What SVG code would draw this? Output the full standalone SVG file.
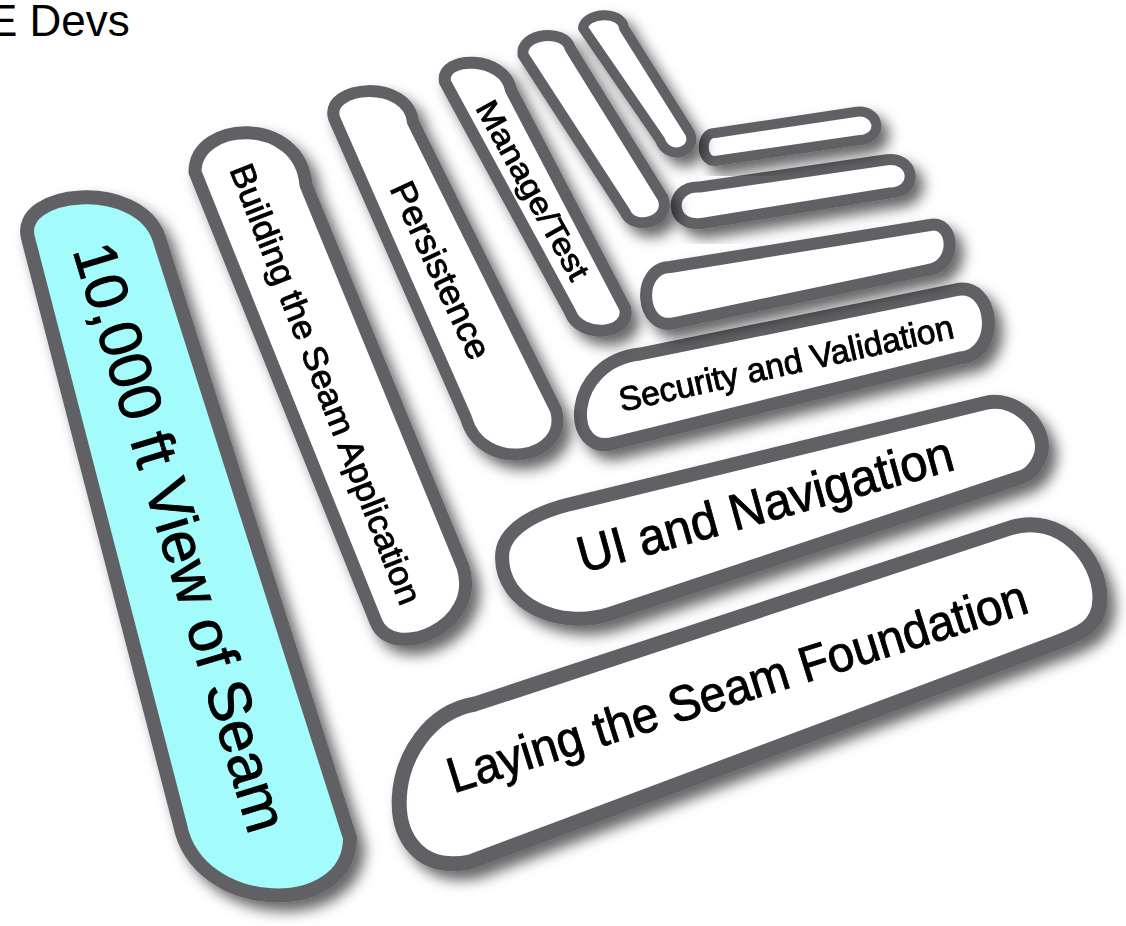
<svg xmlns="http://www.w3.org/2000/svg" width="1126" height="926" viewBox="0 0 1126 926">
<defs>
<filter id="sh" x="-30%" y="-30%" width="160%" height="160%">
<feDropShadow dx="8" dy="9" stdDeviation="7" flood-color="#000" flood-opacity="0.6"/>
</filter>
<style>
.pill{fill:#ffffff;stroke:#616165;stroke-linejoin:round;}
.cyan{fill:#a4fbfc;}
.lbl{font-family:"Liberation Sans",Arial,Helvetica,sans-serif;fill:#000;stroke:#000;stroke-width:0.9;text-anchor:middle;}
.hdr{font-family:"Liberation Sans",Arial,Helvetica,sans-serif;fill:#000;}
</style>
</defs>
<rect width="1126" height="926" fill="#ffffff"/>
<text class="hdr" x="-12" y="36" font-size="44">E Devs</text>

<g id="laying" filter="url(#sh)">
<path class="pill" stroke-width="15" d="M 475,704 L 1010,528 C 1060,512 1100,558 1100,598 C 1100,628 1080,634 1042,648 L 470,862 C 368,882 382,720 475,704 Z"/>
<text class="lbl" font-size="50" textLength="605" lengthAdjust="spacingAndGlyphs" dy="0.35em" transform="translate(737,686) rotate(-17.4)">Laying the Seam Foundation</text>
</g>
<g id="ui" filter="url(#sh)">
<path class="pill" stroke-width="14" d="M 575,503 L 985,403 C 1014,396 1042,422 1042,447 C 1042,459 1033,473 1022,477 L 610,614 C 560,630 502,605 502,557 C 502,530 535,512 575,503 Z"/>
<text class="lbl" font-size="51" textLength="388" lengthAdjust="spacingAndGlyphs" dy="0.35em" transform="translate(765,504) rotate(-15.5)">UI and Navigation</text>
</g>
<g id="security" filter="url(#sh)">
<path class="pill" stroke-width="13" d="M 640,354 L 955,290 C 995,280 1002,355 960,358 L 615,443 C 565,458 566,362 640,354 Z"/>
<text class="lbl" font-size="34" textLength="342" lengthAdjust="spacingAndGlyphs" dy="0.35em" transform="translate(786,363) rotate(-12.5)">Security and Validation</text>
</g>
<g id="blank3" filter="url(#sh)">
<path class="pill" stroke-width="12" d="M 670,267 L 930,225 C 955,220 958,266 928,270 L 675,323 C 640,332 635,268 670,267 Z"/>
</g>
<g id="blank2" filter="url(#sh)">
<path class="pill" stroke-width="11" d="M 700,187 L 885,160 C 915,155 920,192 890,193 L 705,223 C 668,230 667,185 700,187 Z"/>
</g>
<g id="blank1" filter="url(#sh)">
<path class="pill" stroke-width="10" d="M 715,133 L 855,112 C 880,108 885,138 860,140 L 715,161 C 700,162 700,132 715,133 Z"/>
</g>
<g id="blank6" filter="url(#sh)">
<path class="pill" stroke-width="10" d="M 583,28 L 660,140 C 668,162 698,152 690,133 L 624,28 C 622,10 585,12 583,28 Z"/>
</g>
<g id="blank5" filter="url(#sh)">
<path class="pill" stroke-width="11" d="M 523,55 L 625,212 C 633,232 672,222 663,198 L 570,48 C 565,28 520,33 523,55 Z"/>
</g>
<g id="manage" filter="url(#sh)">
<path class="pill" stroke-width="12" d="M 445,82 L 570,312 C 580,340 632,335 625,308 L 511,90 C 505,55 440,55 445,82 Z"/>
<text class="lbl" font-size="31" textLength="200" lengthAdjust="spacingAndGlyphs" dy="0.35em" transform="translate(533,190) rotate(61)">Manage/Test</text>
</g>
<g id="persistence" filter="url(#sh)">
<path class="pill" stroke-width="12" d="M 334,118 L 466,418 C 482,475 570,460 556,410 L 413,122 C 408,78 325,85 334,118 Z"/>
<text class="lbl" font-size="35" textLength="192" lengthAdjust="spacingAndGlyphs" dy="0.35em" transform="translate(441,270) rotate(65)">Persistence</text>
</g>
<g id="building" filter="url(#sh)">
<path class="pill" stroke-width="13" d="M 195,172 L 376,622 C 392,662 482,628 463,567 L 306,185 C 300,115 195,120 195,172 Z"/>
<text class="lbl" font-size="34" textLength="470" lengthAdjust="spacingAndGlyphs" dy="0.35em" transform="translate(326,384) rotate(68.6)">Building the Seam Application</text>
</g>
<g id="overview" filter="url(#sh)">
<path class="pill cyan" stroke-width="14" d="M 28,238 L 180,825 C 198,915 350,918 350,838 L 159,238 C 138,178 15,190 28,238 Z"/>
<text class="lbl" font-size="60" textLength="612" lengthAdjust="spacingAndGlyphs" dy="0.35em" transform="translate(181,537) rotate(73.2)">10,000 ft View of Seam</text>
</g>
<g id="connectors"></g>
</svg>
